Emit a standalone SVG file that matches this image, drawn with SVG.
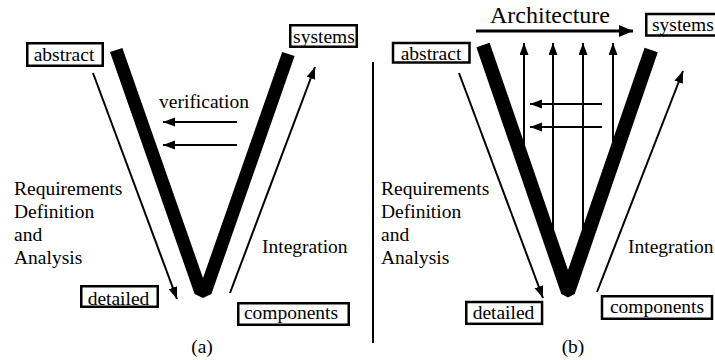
<svg xmlns="http://www.w3.org/2000/svg" width="715" height="360" viewBox="0 0 715 360">
<defs>
<style>
.box{fill:#fff;stroke:#000;stroke-width:2.5}
.t{font-family:"Liberation Serif","Times New Roman",serif;font-size:19.5px;fill:#000}
.c{text-anchor:middle}
.arr{stroke:#000;stroke-width:2;fill:none;marker-end:url(#ah)}
.bar{fill:#000;stroke:none}
</style>
<marker id="ah" markerUnits="userSpaceOnUse" markerWidth="13" markerHeight="10" refX="12" refY="4.5" orient="auto">
<path d="M0,0 L12,4.5 L0,9 Z" fill="#000"/>
</marker>
<marker id="ahb" markerUnits="userSpaceOnUse" markerWidth="15" markerHeight="13" refX="14" refY="6" orient="auto">
<path d="M0,0 L14,6 L0,12 Z" fill="#000"/>
</marker>
</defs>
<rect width="715" height="360" fill="#fff"/>

<g id="connectors">
<!-- panel a -->
<path class="arr" d="M93,73 L177,299"/>
<path class="arr" d="M230,293 L315,67"/>
<path class="arr" d="M237,122 H163"/>
<path class="arr" d="M237,145 H163"/>
<!-- panel b -->
<path class="arr" d="M459,73 L543,298"/>
<path class="arr" d="M597,292 L683,71"/>
<path class="arr" d="M524,146 V43"/>
<path class="arr" d="M553,232 V43"/>
<path class="arr" d="M583,232 V43"/>
<path class="arr" d="M613,144 V43"/>
<path class="arr" d="M602,104 H530"/>
<path class="arr" d="M602,127 H530"/>
<path d="M476,31 H633" stroke="#000" stroke-width="3" fill="none" marker-end="url(#ahb)"/>
</g>

<g id="v-a">
<polygon class="bar" points="110,52.1 194.6,294 203,298 211.4,294 294.6,56.1 282.2,51.9 203,278 122.4,47.9"/>
</g>
<g id="v-b">
<polygon class="bar" points="476.4,47.3 561.3,294 568,297.5 574.7,294 657.8,52.3 644.6,47.7 568,270 489.6,42.7"/>
</g>

<g id="divider">
<line x1="373" y1="62" x2="373" y2="343" stroke="#000" stroke-width="2"/>
</g>

<!-- panel a nodes -->
<g id="abstract-a">
<rect class="box" x="27.25" y="43.25" width="75.5" height="22.5"/>
<text class="t c" x="64" y="61">abstract</text>
</g>
<g id="systems-a">
<rect class="box" x="290.25" y="25.25" width="66.5" height="21.5"/>
<text class="t c" x="324" y="42.5">systems</text>
</g>
<g id="detailed-a">
<rect class="box" x="81.25" y="286.25" width="76.5" height="20.5"/>
<text class="t c" x="118.5" y="305">detailed</text>
</g>
<g id="components-a">
<rect class="box" x="238.25" y="303.25" width="110.5" height="21.5"/>
<text class="t c" x="291" y="318.5">components</text>
</g>
<g id="verification-a">
<text class="t c" x="204" y="108">verification</text>
</g>
<g id="requirements-a">
<text class="t" x="14" y="195">Requirements</text>
<text class="t" x="14" y="218">Definition</text>
<text class="t" x="14" y="241">and</text>
<text class="t" x="14" y="264">Analysis</text>
</g>
<g id="integration-a">
<text class="t" x="262" y="253">Integration</text>
</g>
<g id="caption-a">
<text class="t c" x="202" y="353">(a)</text>
</g>

<!-- panel b nodes -->
<g id="architecture-b">
<text class="t c" x="550" y="23" style="font-size:24px">Architecture</text>
</g>
<g id="abstract-b">
<rect class="box" x="393" y="43" width="76.5" height="19.5"/>
<text class="t c" x="431" y="59.5">abstract</text>
</g>
<g id="systems-b">
<rect class="box" x="646.25" y="14" width="75" height="21.5"/>
<text class="t" x="652" y="31">systems</text>
</g>
<g id="detailed-b">
<rect class="box" x="466.25" y="302" width="75.8" height="21.8"/>
<text class="t c" x="503.5" y="318.5">detailed</text>
</g>
<g id="components-b">
<rect class="box" x="602" y="296.25" width="110" height="22.5"/>
<text class="t c" x="657" y="313">components</text>
</g>
<g id="requirements-b">
<text class="t" x="381" y="195">Requirements</text>
<text class="t" x="381" y="218">Definition</text>
<text class="t" x="381" y="241">and</text>
<text class="t" x="381" y="264">Analysis</text>
</g>
<g id="integration-b">
<text class="t" x="628" y="253">Integration</text>
</g>
<g id="caption-b">
<text class="t c" x="573" y="353">(b)</text>
</g>
</svg>
